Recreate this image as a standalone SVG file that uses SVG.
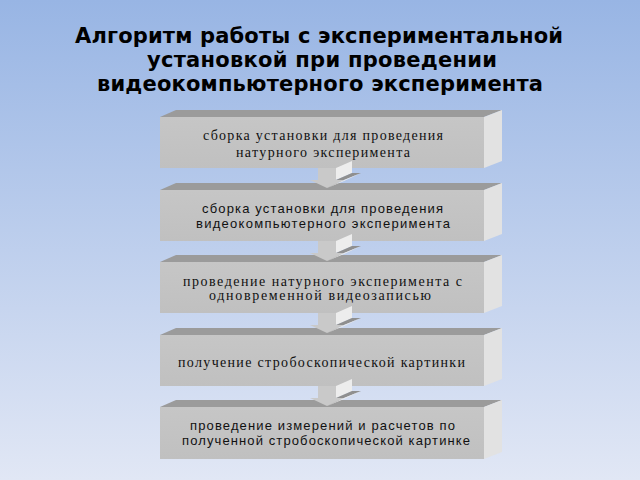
<svg xmlns="http://www.w3.org/2000/svg" width="640" height="480" viewBox="0 0 640 480">
<defs>
<linearGradient id="bg" x1="0" y1="0" x2="0" y2="1">
<stop offset="0" stop-color="#98b5e4"/>
<stop offset="1" stop-color="#e1e7f5"/>
</linearGradient>
<linearGradient id="front" x1="0" y1="0" x2="0" y2="1">
<stop offset="0" stop-color="#c6c6c6"/>
<stop offset="1" stop-color="#c0c0c0"/>
</linearGradient>
</defs>
<style>
.front{fill:url(#front);}
.top{fill:#9b9b9b;}
.side{fill:#e2e2e2;}
.title{font-family:"DejaVu Sans",sans-serif;font-weight:bold;font-size:21px;fill:#000;}
.ts{font-family:"Liberation Serif",serif;font-size:14px;fill:#111;}
.tn{font-family:"Liberation Sans",sans-serif;font-size:13px;fill:#111;}
.af{fill:#c9c9c9;}
.as{fill:#ededed;}
.at{fill:#8f8f8f;}
</style>
<rect width="640" height="480" fill="url(#bg)"/>
<g id="title">
<text class="title" x="75" y="43" textLength="488" lengthAdjust="spacing">Алгоритм работы с экспериментальной</text>
<text class="title" x="147" y="67" textLength="350" lengthAdjust="spacing">установкой при проведении</text>
<text class="title" x="97" y="91" textLength="446" lengthAdjust="spacing">видеокомпьютерного эксперимента</text>
</g>
<g id="node1">
<polygon class="top" points="160,117 176,110 502,110 484,117"/>
<polygon class="side" points="484,117 502,110 502,161 484,168"/>
<rect class="front" x="160" y="117" width="324" height="51"/>
<text class="ts" x="203" y="140" textLength="240" lengthAdjust="spacing">сборка установки для проведения</text>
<text class="ts" x="236" y="157" textLength="174" lengthAdjust="spacing">натурного эксперимента</text>
</g>
<g id="node2">
<polygon class="top" points="160,190 176,183 502,183 484,190"/>
<polygon class="side" points="484,190 502,183 502,234 484,241"/>
<rect class="front" x="160" y="190" width="324" height="51"/>
<text class="tn" x="202" y="213" textLength="241" lengthAdjust="spacing">сборка установки для проведения</text>
<text class="tn" x="196" y="228" textLength="254" lengthAdjust="spacing">видеокомпьютерного эксперимента</text>
</g>
<g id="node3">
<polygon class="top" points="160,262 176,255 502,255 484,262"/>
<polygon class="side" points="484,262 502,255 502,306 484,313"/>
<rect class="front" x="160" y="262" width="324" height="51"/>
<text class="ts" x="183" y="286" textLength="279" lengthAdjust="spacing">проведение натурного эксперимента с</text>
<text class="ts" x="209" y="300" textLength="222" lengthAdjust="spacing">одновременной видеозаписью</text>
</g>
<g id="node4">
<polygon class="top" points="160,335 176,328 502,328 484,335"/>
<polygon class="side" points="484,335 502,328 502,379 484,386"/>
<rect class="front" x="160" y="335" width="324" height="51"/>
<text class="ts" x="178" y="367" textLength="287" lengthAdjust="spacing">получение стробоскопической картинки</text>
</g>
<g id="node5">
<polygon class="top" points="160,407 176,400 502,400 484,407"/>
<polygon class="side" points="484,407 502,400 502,452 484,459"/>
<rect class="front" x="160" y="407" width="324" height="52"/>
<text class="tn" x="190" y="430" textLength="265" lengthAdjust="spacing">проведение измерений и расчетов по</text>
<text class="tn" x="182" y="445" textLength="288" lengthAdjust="spacing">полученной стробоскопической картинке</text>
</g>
<g id="connectors">
<g transform="translate(0,168)">
<polygon class="as" points="336,0 352,-7 352,5 336,12"/>
<polygon class="at" points="336,12 352,5 361,5 344,12"/>
<polygon class="as" points="344,12 361,5 344,13 327,20"/>
<polygon class="af" points="318,0 336,0 336,12 344,12 327,20 310,12 318,12"/>
</g>
<g transform="translate(0,241)">
<polygon class="as" points="336,0 352,-7 352,5 336,12"/>
<polygon class="at" points="336,12 352,5 361,5 344,12"/>
<polygon class="as" points="344,12 361,5 344,13 327,20"/>
<polygon class="af" points="318,0 336,0 336,12 344,12 327,20 310,12 318,12"/>
</g>
<g transform="translate(0,313)">
<polygon class="as" points="336,0 352,-7 352,5 336,12"/>
<polygon class="at" points="336,12 352,5 361,5 344,12"/>
<polygon class="as" points="344,12 361,5 344,13 327,20"/>
<polygon class="af" points="318,0 336,0 336,12 344,12 327,20 310,12 318,12"/>
</g>
<g transform="translate(0,386)">
<polygon class="as" points="336,0 352,-7 352,5 336,12"/>
<polygon class="at" points="336,12 352,5 361,5 344,12"/>
<polygon class="as" points="344,12 361,5 344,13 327,20"/>
<polygon class="af" points="318,0 336,0 336,12 344,12 327,20 310,12 318,12"/>
</g>
</g>
</svg>
